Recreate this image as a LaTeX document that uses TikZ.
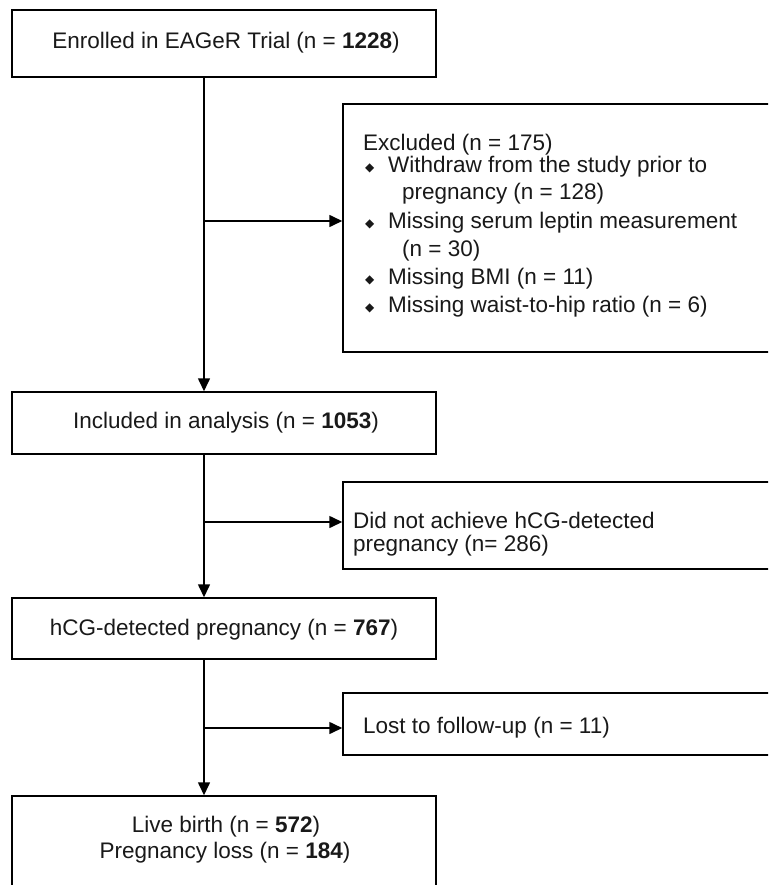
\documentclass[tikz,border=0pt]{standalone}
\usepackage{fontspec}
\setmainfont{Liberation Sans}
\newfontfamily\dejavu{DejaVu Sans}
\usetikzlibrary{arrows.meta}
\newcommand{\mybul}{{\dejavu\fontsize{12}{12}\selectfont ◆}}
\newcommand{\bl}{\makebox[25pt][l]{\hspace{2pt}\raisebox{1.5pt}{\mybul}}}
\newcommand{\ind}{\hspace*{39pt}}
\begin{document}
\begin{tikzpicture}[x=1pt,y=-1pt,
  box/.style={draw=black, line width=1.5pt, rectangle, inner sep=0pt},
  arr/.style={draw=black, line width=1.6pt, -{Triangle[length=13pt,width=12pt]}},
  txt/.style={inner sep=0pt, font=\fontsize{22.5}{27}\selectfont, text=black!90},
  txtl/.style={txt, anchor=west, text height=16pt, text depth=4.5pt}]
\useasboundingbox (0,0) rectangle (768,885);
\clip (0,0) rectangle (768,885);
\fill[white] (0,0) rectangle (768,885);
% boxes
\node[box, minimum width=424pt, minimum height=67pt] (enroll) at (224,43.5) {};
\node[box, minimum width=437pt, minimum height=248pt] (excl) at (561.5,228) {};
\node[box, minimum width=424pt, minimum height=62pt] (incl) at (224,423) {};
\node[box, minimum width=437pt, minimum height=87pt] (dna) at (561.5,525.5) {};
\node[box, minimum width=424pt, minimum height=61pt] (hcg) at (224,628.5) {};
\node[box, minimum width=437pt, minimum height=62pt] (lost) at (561.5,724) {};
\node[box, minimum width=424pt, minimum height=104pt] (live) at (224,848) {};
% texts
\node[txt] (t1) at (226,43) {Enrolled in EAGeR Trial (n = \textbf{1228})};
\node[txtl] (e0) at (363,145) {Excluded (n = 175)};
\node[txtl] (e1) at (363,167) {\bl Withdraw from the study prior to};
\node[txtl] (e2) at (363,194) {\ind pregnancy (n = 128)};
\node[txtl] (e3) at (363,223) {\bl Missing serum leptin measurement};
\node[txtl] (e4) at (363,251) {\ind (n = 30)};
\node[txtl] (e5) at (363,279) {\bl Missing BMI (n = 11)};
\node[txtl] (e6) at (363,307) {\bl Missing waist-to-hip ratio (n = 6)};
\node[txt] (t2) at (226,423) {Included in analysis (n = \textbf{1053})};
\node[txtl] (d1) at (353,523) {Did not achieve hCG-detected};
\node[txtl] (d2) at (353,546) {pregnancy (n= 286)};
\node[txt] (t3) at (224,630) {hCG-detected pregnancy (n = \textbf{767})};
\node[txtl] (l1) at (363,728) {Lost to follow-up (n = 11)};
\node[txt] (t4) at (226,827) {Live birth (n = \textbf{572})};
\node[txt] (t5) at (225,853) {Pregnancy loss (n = \textbf{184})};
% connectors
\draw[arr] ([xshift=-20pt]enroll.south) -- ([xshift=-20pt]incl.north);
\draw[arr] ([xshift=-20pt]incl.south) -- ([xshift=-20pt]hcg.north);
\draw[arr] ([xshift=-20pt]hcg.south) -- ([xshift=-20pt]live.north);
\coordinate (b1) at (204,221);
\coordinate (b2) at (204,522);
\coordinate (b3) at (204,728);
\draw[arr] (b1) -- (b1 -| excl.west);
\draw[arr] (b2) -- (b2 -| dna.west);
\draw[arr] (b3) -- (b3 -| lost.west);
\end{tikzpicture}
\end{document}
